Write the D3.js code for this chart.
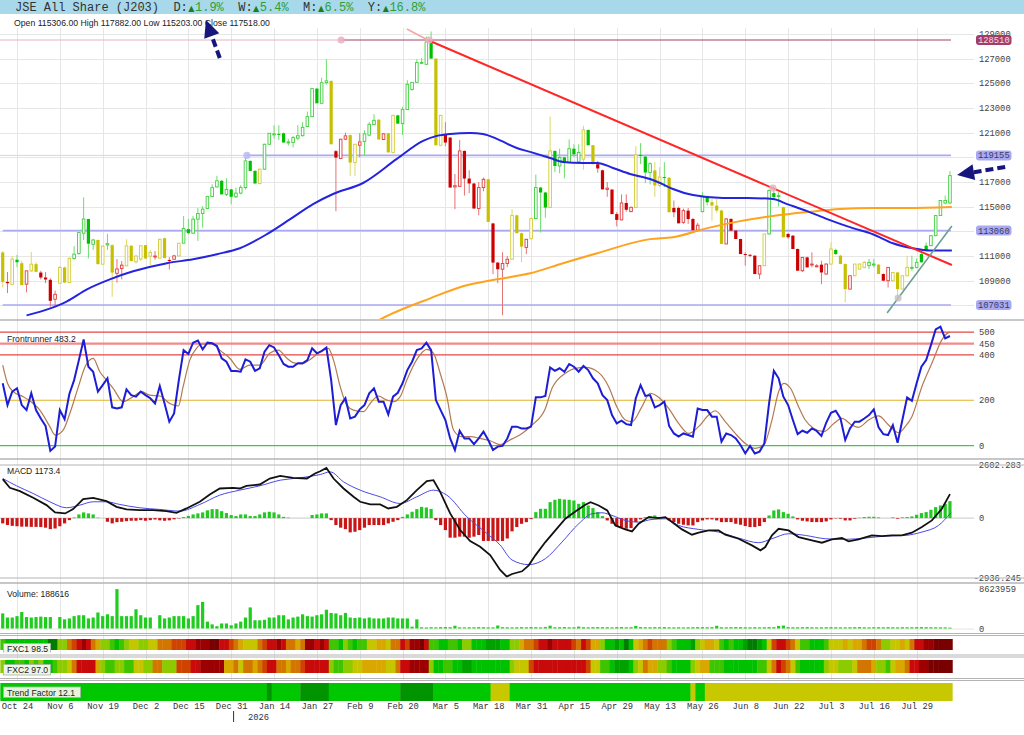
<!DOCTYPE html>
<html>
<head>
<meta charset="utf-8">
<title>JSE All Share (J203)</title>
<script src="https://cdn.jsdelivr.net/npm/d3@7"></script>
<style>
  body { margin: 0; background: #fff; }
  svg { display: block; }
</style>
</head>
<body>
<svg id="chart" width="1024" height="735"></svg>
<script>
// ---------- values ----------
const periodNames = ['D', 'W', 'M', 'Y'];
const periodChanges = [1.9, 5.4, 6.5, 16.8];

const tickLabels = ['Oct 24','Nov 6','Nov 19','Dec 2','Dec 15','Dec 31','Jan 14','Jan 27','Feb 9','Feb 20','Mar 5',
  'Mar 18','Mar 31','Apr 15','Apr 29','May 13','May 26','Jun 8','Jun 22','Jul 3','Jul 16','Jul 29'];
const tickBars = [3,12,21,30,39,48,57,66,75,84,93,102,111,120,129,138,147,156,165,174,183,192];
const yearMarks = [[48.5, '2026']];

const priceTicks = [107000,109000,111000,113000,115000,117000,119000,121000,123000,125000,127000,129000];

// open, high, low, close per trading day
const ohlc = [
[111290,111400,108450,108910],[108900,109700,108000,108800],[108700,111000,108700,110750],[110700,111100,110100,110500],[110420,110600,108640,108640],
[108720,109800,108050,109800],[109800,111340,109700,110340],[110340,110500,109700,109720],[109660,109800,109100,109260],[109260,109700,108800,109100],
[109070,109200,106900,107370],[107500,108200,106950,107900],[108800,110200,108800,110070],[110070,110150,108850,108850],[108850,110900,108800,110800],
[110800,111800,110700,111150],[111200,112950,111100,112900],[112850,115750,112300,114000],[114000,114000,110800,112000],[111950,112400,111500,112300],
[112300,112350,110340,110340],[110340,111850,110300,111800],[111900,112800,111500,112000],[111880,111950,107700,109660],[109600,110750,108850,109950],
[109990,110600,109100,110260],[110200,112360,110200,111830],[111830,111900,110600,110600],[110530,111100,110400,111000],[110750,111900,110600,111830],
[111880,111900,110800,110800],[110990,111500,110250,111280],[111000,111400,110700,111000],[110830,112400,110800,112360],[112440,112500,110830,110830],
[110680,110900,109900,110660],[110740,111100,110700,111010],[111010,112050,111000,112040],[112040,114250,112040,113230],[113180,114000,112750,112850],
[112850,114250,112800,113990],[113990,114900,112230,114450],[114450,115050,113300,114800],[114850,115850,114800,115820],[115820,116820,115800,116550],
[116600,117500,116550,117100],[117100,117150,116000,116000],[116000,117300,115850,116400],[116400,116450,115200,115800],[115800,116550,115700,116100],
[116100,116750,116000,116550],[116550,119000,116400,118710],[118710,118750,117900,117900],[117900,117950,116880,116880],[116880,118100,116800,118040],
[118040,120100,118000,120060],[120060,120950,120000,120950],[120900,121600,120500,120900],[120900,121600,120400,120880],[120950,121000,120200,120200],
[120200,120500,119950,120250],[120200,120750,119800,120600],[120550,121600,120400,120750],[120750,121850,120700,121430],[121500,122700,121450,122300],
[122300,124600,122250,124570],[124570,124600,123380,123380],[123380,125450,123350,125050],[125050,126950,124900,125200],[125190,125250,120060,120060],
[119500,119600,114630,118980],[118900,120500,118850,120470],[120470,121000,120400,120740],[120800,120850,117500,118580],[118580,120100,117500,120060],
[119980,120950,119000,120250],[120280,121200,119100,120900],[120800,121850,120700,121680],[121650,122500,121600,122000],[122050,122100,120450,120450],
[120450,120950,120400,120900],[120950,121000,119400,119400],[119400,122450,119350,122400],[122400,122450,121730,121730],[121730,123100,120800,122870],
[122870,125250,122850,124920],[124500,125100,124400,125080],[125080,126950,125050,126680],[126650,127050,126550,126700],[126540,128800,126500,128350],
[128400,129200,127000,127000],[127000,127050,119980,119980],[119980,122450,119900,122400],[120870,121850,119900,120200],[120600,120650,116550,116550],
[116600,117650,114800,116700],[116650,120400,116600,119520],[119520,119550,115900,117280],[117280,117950,116100,116880],[116880,116900,114850,114850],
[114850,117000,114300,116550],[116550,117350,116250,117220],[117220,117250,113770,113770],[113640,113700,109530,110470],[110470,110500,108800,109930],
[109930,111300,106200,110400],[110400,111000,110100,110740],[110740,114800,110700,114300],[114300,114350,112850,112850],[112850,112900,110500,111770],
[111700,112360,111150,112360],[112400,114100,112350,114040],[114040,117600,114000,116550],[116550,116600,112900,116150],[116150,116200,114100,114930],
[114930,122300,114900,119520],[119520,119550,117800,118300],[118300,119700,117700,119000],[119000,119050,117300,118580],[118580,120450,118500,119700],
[119700,120050,119050,119250],[118630,120050,118500,119400],[118850,121560,118000,121220],[121220,121250,119980,119980],[119980,120000,118440,118440],
[118440,118700,117750,118100],[117950,118000,116400,116400],[116400,117000,115800,116500],[116390,116400,114400,114400],[114400,114550,113400,113930],
[113930,116000,113900,115300],[115300,116000,114600,114750],[114600,115000,114550,114950],[114930,119900,114900,119200],[119200,120150,118450,119110],
[119060,119100,116900,117770],[117770,118600,116800,118480],[117940,118610,115800,116720],[116720,118200,116580,117400],[117400,118610,116580,117350],
[117340,117400,114550,114550],[114900,115500,114140,114550],[114900,115000,113650,113650],[113730,114850,113600,114680],[114680,114900,113600,114000],
[114000,114100,113000,113100],[113100,113700,112950,113500],[114600,116175,114550,115800],[115770,115900,115100,115360],[115360,115630,113870,115100],
[115090,115630,114500,114690],[114690,114750,111980,111980],[111980,114050,111950,114010],[114010,114050,113060,113060],[113060,113100,112380,112380],
[112380,112400,111160,111160],[111160,111300,110220,111100],[111100,111160,110900,111030],[111030,111050,109540,109540],[109540,110215,109130,110215],
[110215,112800,110200,112790],[112790,116400,112750,116310],[116100,116500,115700,115770],[115900,116175,115010,115900],[114960,115000,112520,112520],
[112790,112850,112400,112520],[112650,112700,111570,111570],[111570,111600,109810,109810],[109810,110890,109700,110890],[110890,110950,110080,110080],
[110350,111300,110080,110350],[110210,110350,110080,110210],[110300,110620,108720,109670],[109540,110400,109500,110350],[110350,112110,110300,111570],
[111490,111600,111100,111160],[111030,111100,110350,110350],[110350,110400,107240,108320],[108320,109400,108300,109400],[109400,110350,109350,110350],
[109940,110400,109900,110350],[110080,110600,110000,110490],[110220,110760,109940,110490],[110350,110760,110080,110350],[110300,110350,109540,109540],
[109540,109600,109000,109000],[109000,110080,108450,110080],[109000,109700,108950,109670],[109670,109700,107370,108320],[108320,109400,108300,109400],
[109400,111030,109350,110080],[110080,111030,109810,110080],[110080,110800,110000,110490],[111160,111250,110490,110490],[111840,112100,111430,111430],
[111840,112700,111800,112650],[112650,114300,112600,114280],[114280,115550,114250,115500],[115300,115900,115200,115500],[115306,117882,115203,117518]
];

// candle colour class per day: g green, r red, y yellow
const candleColors = [
  'yrygyryyrr','rryyyggggg','yygyrryyyy','yyryyrrygg','gggggggggg','ggggyggggg','gggggggggy','rrryyrgggy','ryyggggggg','gyyrrrrrrr',
  'rryrrrryyy','rygggygggg','ggygyrrrrr','rrrygggyyg','yrrrrrrggy','yyrrrrrrrr','ygggyrrrrr','rrrrygyyry','yyggyrryyy','yggggggggg'
].join('').split('');

// moving averages [day, value]
const blueMA = [[5,106190],[10,106760],[13.5,107330],[17.7,108300],[22.5,109110],[27.4,109760],[34.5,110420],[40,110740],[45,111150],
  [49.8,111630],[55.5,112770],[60.4,113990],[65.2,115210],[69.4,116030],[75.7,116920],[82.8,118870],[88.3,120330],[91.2,120740],
  [94,120900],[98.2,120980],[100.9,120900],[103.8,120500],[108,119760],[110.8,119440],[115,118950],[117.7,118630],[121.9,118550],
  [124.9,118550],[128.2,118140],[131.8,117650],[136,117240],[138.1,116920],[140.8,116430],[145,115940],[151.3,115700],[156.4,115700],
  [161.8,115620],[164.8,115210],[169,114640],[173.2,113990],[178.6,113260],[182.8,112770],[187,112040],[191.2,111630],[194.8,111450],[199.4,111450]];
const orangeMA = [[79,105800],[81,106190],[89.8,107570],[96.7,108550],[103.8,109110],[110.8,109600],[117.7,110420],[124.9,111230],
  [136,112370],[140.8,112530],[148,113260],[154.9,113830],[161.8,114240],[169,114560],[175.9,114810],[182.8,114890],[190,114890],[199.4,114970]];

// drawn lines and levels
const srLevels = [128510, 119155, 113060, 107031];
const srAnchorDays = [71.1, 51.3, 0, 0];
const downTrend = [[89.3,128510],[199.4,110270]];
const downTrendLead = [[84.9,129400],[89.3,128510]];
const upTrend = [[185.8,106380],[199.4,113440]];
const markers = [[71.1,128510,'pink'],[51.3,119155,'lav'],[89.6,128510,'pink'],[161.8,116515,'pink'],[188.1,107600,'grey']];
const arrows = [{from:[45.6,127050], to:[42.7,130130]}, {from:[210.6,118220], to:[200.5,117570]}];

const volume = [
3300000,2400000,2400000,2700000,3600000,2500000,2400000,2500000,2600000,2500000,2500000,0,
2500000,2000000,2200000,2700000,2900000,2900000,2200000,2400000,3500000,2700000,3100000,2700000,8600000,2700000,2700000,2700000,4200000,2900000,2400000,2400000,0,
2900000,2200000,2400000,2700000,2700000,2700000,2200000,2700000,5100000,5800000,1500000,900000,500000,1100000,1100000,700000,1100000,1500000,
2400000,4600000,1800000,1800000,1900000,2400000,2400000,2900000,2900000,2000000,2400000,2600000,3100000,2700000,2600000,2900000,3100000,4100000,3400000,3300000,
2900000,3400000,2400000,2300000,2400000,2200000,2400000,2200000,2200000,2200000,2400000,2400000,2200000,2200000,2200000,400000,2000000,
260000,230000,280000,250000,300000,320000,280000,600000,250000,240000,
270000,260000,300000,280000,250000,240000,650000,280000,260000,250000,
270000,290000,260000,300000,280000,250000,310000,620000,260000,280000,
300000,270000,260000,420000,280000,260000,290000,300000,280000,270000,
250000,300000,310000,260000,280000,570000,300000,260000,270000,290000,
280000,300000,260000,250000,270000,240000,260000,280000,300000,290000,
260000,280000,590000,270000,260000,280000,300000,290000,270000,260000,
280000,250000,270000,300000,280000,560000,640000,290000,270000,260000,
280000,300000,270000,250000,260000,280000,290000,270000,260000,250000,
270000,280000,300000,260000,250000,270000,280000,260000,290000,270000,
250000,280000,260000,270000,290000,300000,280000,270000,260000,250000,
240000,188616];

const frontrunner = [
275,179,238,253,179,157,231,157,120,87, -23,-4,157,117,228,289,377,468,348,326,
238,267,297,169,164,169,248,223,216,238, 223,209,186,263,186,106,142,289,421,404,
454,463,424,454,451,439,385,370,329,329, 326,380,370,330,341,414,443,433,399,360,
348,348,363,363,377,429,407,417,432,289, 91,179,209,120,128,160,179,231,253,194,
194,138,216,233,275,333,370,421,429,454, 421,201,157,113,32,-19,66,32,32,7,
32,62,25,-19,-4,-1,32,84,84,76, 76,84,213,213,219,345,330,341,326,360,
348,326,351,333,297,275,223,201,135,98, 110,95,91,209,267,219,223,169,179,194,
87,54,40,54,47,40,164,157,157,128, 128,18,54,47,32,3,-34,-1,-34,-26,
10,186,330,297,216,179,113,51,66,57, 76,65,43,101,145,154,120,25,76,106,
106,120,135,160,81,51,47,91,13,113, 213,198,275,348,377,443,512,524,473,483.2];
const frontSignal = [[0,355],[1,275],[2.2,238],[4.3,216],[6.4,186],[7.8,157],[9.9,84],[11,47],[12.7,69],[14.1,142],[15.9,260],
  [17.3,348],[19,385],[20.4,326],[21.8,289],[23.2,253],[25.3,194],[27.4,216],[29.2,238],[30.9,223],[33,219],[35.1,186],[36.9,175],
  [37.9,260],[39.3,377],[40.7,429],[42.1,448],[44.2,448],[45.6,421],[47.7,385],[49.8,336],[51.9,355],[54,355],[56.1,407],[57.9,421],
  [59.7,385],[61,366],[62.8,360],[64.6,380],[66.7,414],[68.4,429],[69.5,377],[70.9,260],[72.3,179],[73.7,157],[75.8,150],[77.2,186],
  [78.9,219],[80.7,201],[82.1,194],[83.5,216],[84.9,289],[87,380],[89.1,424],[90.5,407],[91.9,319],[93.3,216],[94.7,69],[96.4,40],
  [98.2,40],[100.3,32],[102.4,22],[104.5,5],[107,30],[109.1,54],[111.2,91],[114,164],[115.4,253],[118.2,319],[120.3,341],[122.4,345],
  [125.2,322],[127.3,260],[129,172],[130.8,113],[132.2,106],[134.3,172],[136,231],[137.8,213],[139.9,164],[142,98],[144.1,54],
  [146.2,84],[148.3,135],[149.7,154],[151.8,106],[153.9,54],[156,10],[158.1,-12],[159.9,3],[161.6,113],[163,238],[164.1,275],
  [165.5,253],[167.2,172],[168.6,113],[170.4,76],[172.5,62],[174.6,98],[176.3,120],[178.4,91],[179.8,81],[181.9,113],[184,131],
  [186.1,91],[188.2,57],[189.6,84],[191,128],[193.1,260],[195.2,363],[197.3,466],[198.7,498],[199,500]];
const frontLevels = [500, 450, 400, 200, 0];

const macdLine = [[0,1907],[1.5,1483],[3.6,1320],[6.4,994],[9.2,636],[11,277],[13.1,228],[14.8,440],[16.9,929],[19,994],[21.8,831],
  [23.9,554],[26,424],[28.8,391],[31.6,391],[34.4,342],[36.5,261],[38.6,473],[41.4,799],[43.5,1157],[45.6,1451],[48.4,1483],[49.8,1451],
  [51.2,1581],[54,1646],[56.1,1940],[58.3,2070],[61,1972],[63.9,1940],[65.6,2184],[66.7,2298],[68,2461],[69.5,1940],[71.6,1451],
  [73.7,1043],[75.1,799],[77.2,668],[79.3,668],[81,473],[82.8,554],[84.9,880],[87,1369],[89.1,1809],[90.5,1858],[91.9,1288],[94,228],
  [96.1,-587],[98.2,-1125],[100.3,-1402],[102.4,-1809],[104.5,-2543],[105.9,-2869],[107,-2740],[109.1,-2608],[110.5,-2315],
  [111.9,-1826],[114,-1174],[116.1,-603],[118.2,-33],[120.3,326],[122.4,652],[123.5,782],[125.2,619],[127,375],[128.7,-359],
  [130.8,-554],[132.2,-652],[133.6,-277],[135.7,49],[137.8,0],[139.2,49],[140.6,-196],[142.7,-554],[144.8,-815],[146.2,-717],
  [148.3,-603],[150.4,-603],[151.8,-815],[154.6,-1011],[157.4,-1337],[159.2,-1581],[160.2,-1418],[161.6,-848],[163,-522],
  [165.1,-603],[167.2,-929],[170,-1092],[172.1,-1206],[174.2,-1043],[176.3,-978],[177.7,-1141],[179.8,-1043],[182.6,-848],
  [184.7,-880],[186.8,-848],[188.9,-848],[191,-717],[193.1,-440],[195.2,-114],[197.3,456],[199,1173.4]];
const macdSignal = [[0,1940],[2.9,1581],[6.4,1206],[9.9,799],[13.4,505],[16.2,636],[19,799],[21.8,799],[24.6,668],[28.8,505],
  [33,424],[37.2,342],[41.4,668],[45.6,1125],[49.8,1369],[54,1581],[58.3,1858],[62.4,1972],[66.7,2135],[68.8,2266],[71.6,1777],
  [75.1,1369],[79.3,1043],[83.5,717],[87,1043],[90.5,1369],[93.3,1125],[97.5,65],[101.7,-750],[104.5,-1320],[107,-2054],
  [110.5,-2282],[114,-1989],[117.5,-1174],[121,-277],[123.8,212],[125.9,261],[128,130],[130.8,-114],[133.6,-196],[136.4,-65],
  [139.2,-33],[142,-359],[146.2,-554],[150.4,-685],[154.6,-978],[158.8,-1206],[161.6,-1011],[165.1,-766],[168.6,-848],
  [172.8,-1011],[177,-1043],[181.2,-978],[185.4,-880],[189.6,-848],[193.1,-685],[196.6,-359],[199.2,261]];
const macdHist = [
-260,-340,-380,-400,-420,-420,-430,-430,-440,-470, -540,-510,-400,-260,-100,30,180,280,230,180,
20,0,-180,-260,-200,-180,-150,-130,-130,-100, -130,-100,-70,-110,-130,-110,-60,-20,50,110,
180,230,280,380,440,440,340,250,150,100, 180,180,100,100,180,280,310,280,180,60,
20,0,0,0,0,150,180,230,230,-100, -340,-470,-540,-700,-670,-590,-470,-340,-340,-340,
-340,-260,-180,-100,60,180,310,440,550,520, 450,-100,-340,-590,-960,-960,-910,-910,-960,-910,
-830,-1120,-1120,-1120,-1120,-1120,-1000,-650,-440,-280, -200,-50,293,456,456,782,897,945,913,897,
864,701,782,619,489,293,98,-114,-277,-391, -440,-522,-489,-196,-65,49,98,130,49,0,
-114,-196,-277,-326,-359,-359,-196,-114,-65,-65, -114,-196,-196,-196,-277,-326,-391,-440,-440,-391,
-196,130,375,424,293,212,82,-65,-130,-163, -196,-196,-196,-163,-65,-16,-33,-114,-114,-33,
16,49,65,65,33,0,0,33,-33,33, 49,82,163,245,293,408,538,619,701,831];
const macdRange = [-2936.245, 2602.283];

// heat levels: 0 deep green ... 11 maroon
const fxc1 = [
3,2,2,2,2,2,2,2,2,2, 0,0,4,4,7,8,9,10,9,7, 6,4,4,3,2,3,4,5,5,4, 4,5,5,7,7,7,8,8,8,9,
9,10,10,10,11,11,9,9,8,7, 6,5,5,5,7,8,9,9,10,9, 7,7,6,7,10,10,9,10,9,3, 3,2,4,3,2,3,3,5,5,6,
6,5,7,7,9,8,10,10,11,9, 3,3,2,2,3,3,2,4,4,2, 2,2,1,1,1,2,2,4,4,6, 7,7,8,9,9,10,9,9,9,9,
8,7,9,8,6,6,4,2,2,1, 2,0,2,5,6,7,8,7,7,7, 4,3,2,2,2,1,4,5,6,6, 5,3,2,3,2,2,1,0,0,1,
2,5,8,9,9,8,7,5,3,3, 2,2,2,3,5,5,5,6,5,6, 6,7,8,8,7,4,4,5,5,6, 5,7,9,9,10,10,11,11,11,11];
const fxc2 = [
4,2,2,3,3,2,4,3,4,2, 2,3,4,4,5,7,9,9,9,9, 6,4,3,3,4,4,3,3,5,5, 4,4,7,7,4,4,4,8,8,8,
9,9,10,10,10,10,10,6,6,7, 5,7,7,6,7,8,9,9,7,7, 6,7,7,8,9,9,9,9,9,4, 3,3,4,4,5,5,6,6,6,6,
6,5,5,7,9,9,10,10,10,10, 4,2,2,3,3,2,2,1,1,2, 2,2,2,2,2,2,2,4,5,5, 5,8,9,9,9,9,9,9,9,9,
9,9,9,8,5,5,3,3,2,1, 1,1,2,4,5,7,6,6,4,4, 3,2,2,2,2,4,5,6,6,3, 3,3,2,2,2,2,2,2,2,3,
3,5,7,9,8,7,5,3,2,2, 2,2,2,4,5,5,4,4,4,5, 7,7,7,6,4,4,3,5,6,6, 7,9,9,10,10,11,11,11,11,11];
const fxcReadings = [98.5, 97.0];
// trend factor runs [firstDay, lastDay, state] : 0 strong, 1 up, 2 neutral
const trendRuns = [[0,55,1],[56,56,0],[57,62,1],[63,68,0],[69,83,1],[84,90,0],[91,102,1],[103,106,2],[107,144,1],[145,145,2],[146,147,1],[148,199,2]];
const trendFactor = 12.1;

// ---------- drawing ----------
const svg = d3.select('#chart');
const W = 1024, plotRight = 974;
const mono = 'Liberation Mono, DejaVu Sans Mono, monospace';
const sans = 'Liberation Sans, Arial, sans-serif';

const x = d3.scaleLinear().domain([0, ohlc.length - 1]).range([2.72, 949.96]);
const step = x(1) - x(0);
const yP = d3.scaleLinear().domain([107031, 128510]).range([305, 40]);
const yF = d3.scaleLinear().domain([0, 500]).range([445.7, 332.2]);
const yM = d3.scaleLinear().domain(macdRange).range([578, 465]);
const yV = d3.scaleLinear().domain([0, 8623959]).range([628.5, 589]);

const defs = svg.append('defs');
function clip(id, y0, y1) {
  defs.append('clipPath').attr('id', id).append('rect')
    .attr('x', 0).attr('y', y0).attr('width', plotRight).attr('height', y1 - y0);
  return `url(#${id})`;
}

// header
svg.append('rect').attr('width', W).attr('height', 14).attr('fill', '#a8d9ea');
const cw = 7.2;
svg.append('text').attr('x', 15).attr('y', 11).attr('font-family', mono).attr('font-size', 12)
  .attr('fill', '#333').text('JSE All Share (J203)');
periodNames.forEach((p, k) => {
  const col = 22 + k * 9;
  svg.append('text').attr('x', 15 + col * cw).attr('y', 11).attr('font-family', mono).attr('font-size', 12)
    .attr('fill', '#333').text(p + ':');
  svg.append('text').attr('x', 15 + (col + 2) * cw + 0.5).attr('y', 10.5).attr('font-family', 'DejaVu Sans')
    .attr('font-size', 8).attr('fill', '#1e7d1e').text('\u25B2');
  svg.append('text').attr('x', 15 + (col + 3) * cw).attr('y', 11).attr('font-family', mono).attr('font-size', 12)
    .attr('fill', '#2f9e36').text(periodChanges[k].toFixed(1) + '%');
});
const last = ohlc[ohlc.length - 1];
svg.append('text').attr('x', 14).attr('y', 26).attr('font-family', sans).attr('font-size', 8.7).attr('fill', '#222')
  .text(`Open ${last[0].toFixed(2)} High ${last[1].toFixed(2)} Low ${last[2].toFixed(2)} Close ${last[3].toFixed(2)}`);

// grid
const grid = svg.append('g').attr('stroke', '#e6e6e6').attr('stroke-width', 1);
grid.selectAll('line.v').data(tickBars).join('line')
  .attr('x1', d => Math.round(x(d)) + 0.5).attr('x2', d => Math.round(x(d)) + 0.5).attr('y1', 28).attr('y2', 681);
grid.selectAll('line.h').data(priceTicks).join('line')
  .attr('x1', 0).attr('x2', plotRight).attr('y1', d => Math.round(yP(d)) + 0.5).attr('y2', d => Math.round(yP(d)) + 0.5);

// ---- price panel ----
const pricePanel = svg.append('g').attr('clip-path', clip('cp-price', 28, 319));

// support / resistance lines
srLevels.forEach((v, k) => {
  const yy = yP(v);
  const a = srAnchorDays[k];
  const main = k === 0 ? '#a3406a' : '#aaaaf2';
  const faint = k === 0 ? '#e6b4bf' : '#d4d4f8';
  if (a > 0) pricePanel.append('line').attr('x1', 0).attr('x2', x(a)).attr('y1', yy).attr('y2', yy)
    .attr('stroke', faint).attr('stroke-width', 1);
  pricePanel.append('line').attr('x1', x(a)).attr('x2', x(ohlc.length - 1) + 1).attr('y1', yy).attr('y2', yy)
    .attr('stroke', main).attr('stroke-width', k === 0 ? 1 : 1.6);
});

// candles
const palette = {
  g: {fill: '#00bf00', line: '#3fce3f', wick: '#6ade6a'},
  r: {fill: '#cc0000', line: '#de3c3c', wick: '#e77272'},
  y: {fill: '#c6c000', line: '#d2cc35', wick: '#dcd86a'}
};
const candle = pricePanel.selectAll('g.candle').data(ohlc).join('g').attr('class', 'candle');
candle.append('line')
  .attr('x1', (d, i) => x(i)).attr('x2', (d, i) => x(i))
  .attr('y1', d => yP(d[1])).attr('y2', d => yP(d[2]))
  .attr('stroke', (d, i) => palette[candleColors[i]].wick).attr('stroke-width', 1);
candle.append('rect')
  .attr('x', (d, i) => d[3] >= d[0] ? x(i) - 1.3 : x(i) - 1.6)
  .attr('width', d => d[3] >= d[0] ? 2.6 : 3.2)
  .attr('y', d => yP(Math.max(d[0], d[3])))
  .attr('height', d => Math.max(1, Math.abs(yP(d[0]) - yP(d[3]))))
  .attr('fill', (d, i) => d[3] >= d[0] ? '#fff' : palette[candleColors[i]].fill)
  .attr('stroke', (d, i) => d[3] >= d[0] ? palette[candleColors[i]].line : 'none')
  .attr('stroke-width', 0.9);

// averages and trend lines
const priceLine = d3.line().x(d => x(d[0])).y(d => yP(d[1]));
const smooth = d3.line().x(d => x(d[0])).y(d => yP(d[1])).curve(d3.curveMonotoneX);
pricePanel.append('path').attr('d', smooth(orangeMA)).attr('fill', 'none').attr('stroke', '#ffa31f').attr('stroke-width', 2);
pricePanel.append('path').attr('d', smooth(blueMA)).attr('fill', 'none').attr('stroke', '#2424e0').attr('stroke-width', 2);
pricePanel.append('path').attr('d', priceLine(downTrendLead)).attr('fill', 'none').attr('stroke', '#f4a6a6').attr('stroke-width', 1.5);
pricePanel.append('path').attr('d', priceLine(downTrend)).attr('fill', 'none').attr('stroke', '#ff2626').attr('stroke-width', 2);
pricePanel.append('path').attr('d', priceLine(upTrend)).attr('fill', 'none').attr('stroke', '#6c9e93').attr('stroke-width', 1.6);

const markerFill = {pink: '#eab0c0', lav: '#b8b8f4', grey: '#c4c4c4'};
pricePanel.selectAll('circle.mk').data(markers).join('circle')
  .attr('cx', d => x(d[0])).attr('cy', d => yP(d[1])).attr('r', 3.6)
  .attr('fill', d => markerFill[d[2]]).attr('opacity', 0.85);

// price axis labels
const pAxis = svg.append('g').attr('font-family', mono).attr('font-size', 8.8).attr('fill', '#444');
pAxis.selectAll('text').data(priceTicks).join('text')
  .attr('x', 979).attr('y', d => yP(d)).attr('dy', '0.35em').text(d => d);
srLevels.forEach((v, k) => {
  const yy = yP(v);
  svg.append('rect').attr('x', 976).attr('y', yy - 5).attr('width', 35.5).attr('height', 10).attr('rx', 3)
    .attr('fill', k === 0 ? '#a33d66' : '#a9a9f2');
  svg.append('text').attr('x', 978).attr('y', yy).attr('dy', '0.35em').attr('font-family', mono).attr('font-size', 8.8)
    .attr('fill', k === 0 ? '#f6dde8' : '#3a3a60').text(v);
});

// ---- frontrunner panel ----
const frPanel = svg.append('g').attr('clip-path', clip('cp-fr', 321, 458));
const levelStyle = {500: ['#e84444', 1.2], 450: ['#f28a8a', 2.2], 400: ['#e84444', 1.2], 200: ['#e2b22a', 1.1], 0: ['#4cc24c', 1.2]};
frontLevels.forEach(v => {
  frPanel.append('line').attr('x1', 0).attr('x2', plotRight).attr('y1', yF(v)).attr('y2', yF(v))
    .attr('stroke', levelStyle[v][0]).attr('stroke-width', levelStyle[v][1]);
  svg.append('text').attr('x', 979).attr('y', yF(v)).attr('dy', '0.35em').attr('font-family', mono)
    .attr('font-size', 8.8).attr('fill', '#444').text(v);
});
const frLine = d3.line().x((d, i) => x(i)).y(d => yF(d));
frPanel.append('path').attr('d', d3.line().x(d => x(d[0])).y(d => yF(d[1])).curve(d3.curveMonotoneX)(frontSignal))
  .attr('fill', 'none').attr('stroke', '#b27a52').attr('stroke-width', 1.2);
frPanel.append('path').attr('d', frLine(frontrunner)).attr('fill', 'none').attr('stroke', '#1d1dd6').attr('stroke-width', 2);
svg.append('text').attr('x', 7).attr('y', 342).attr('font-family', sans).attr('font-size', 8.6).attr('fill', '#222')
  .text(`Frontrunner ${frontrunner[frontrunner.length - 1]}`);

// ---- MACD panel ----
const mPanel = svg.append('g').attr('clip-path', clip('cp-macd', 464, 579));
mPanel.append('line').attr('x1', 0).attr('x2', plotRight).attr('y1', yM(0)).attr('y2', yM(0))
  .attr('stroke', '#c8c8c8').attr('stroke-width', 1);
mPanel.selectAll('rect.h').data(macdHist).join('rect')
  .attr('x', (d, i) => x(i) - 1.6).attr('width', 3.2)
  .attr('y', d => Math.min(yM(0), yM(d))).attr('height', d => Math.abs(yM(d) - yM(0)))
  .attr('fill', d => d >= 0 ? '#22c922' : '#c81616');
mPanel.append('path').attr('d', d3.line().x(d => x(d[0])).y(d => yM(d[1])).curve(d3.curveMonotoneX)(macdSignal))
  .attr('fill', 'none').attr('stroke', '#4a4ae6').attr('stroke-width', 1);
mPanel.append('path').attr('d', d3.line().x(d => x(d[0])).y(d => yM(d[1]))(macdLine))
  .attr('fill', 'none').attr('stroke', '#111').attr('stroke-width', 1.8);
svg.append('rect').attr('x', 3).attr('y', 466).attr('width', 60).attr('height', 10).attr('fill', '#fff').attr('opacity', 0.85);
svg.append('text').attr('x', 7).attr('y', 474).attr('font-family', sans).attr('font-size', 8.6).attr('fill', '#222')
  .text(`MACD ${macdLine[macdLine.length - 1][1]}`);
svg.append('text').attr('x', 1021).attr('y', yM(macdRange[1])).attr('dy', '0.35em').attr('text-anchor', 'end')
  .attr('font-family', mono).attr('font-size', 8.8).attr('fill', '#444').text(macdRange[1].toFixed(3));
svg.append('text').attr('x', 1021).attr('y', yM(macdRange[0])).attr('dy', '0.35em').attr('text-anchor', 'end')
  .attr('font-family', mono).attr('font-size', 8.8).attr('fill', '#444').text(macdRange[0].toFixed(3));
svg.append('text').attr('x', 979).attr('y', yM(0)).attr('dy', '0.35em')
  .attr('font-family', mono).attr('font-size', 8.8).attr('fill', '#444').text(0);

// ---- volume panel ----
svg.append('line').attr('x1', 0).attr('x2', plotRight).attr('y1', yV(0) + 0.5).attr('y2', yV(0) + 0.5).attr('stroke', '#e4e4e4');
svg.append('g').selectAll('rect').data(volume).join('rect')
  .attr('x', (d, i) => x(i) - 1.6).attr('width', 3.2)
  .attr('y', d => yV(d)).attr('height', d => yV(0) - yV(d))
  .attr('fill', '#1fcc1f');
svg.append('text').attr('x', 7).attr('y', 597).attr('font-family', sans).attr('font-size', 8.6).attr('fill', '#222')
  .text(`Volume: ${volume[volume.length - 1]}`);
[8623959, 0].forEach(v => svg.append('text').attr('x', 979).attr('y', yV(v)).attr('dy', '0.35em')
  .attr('font-family', mono).attr('font-size', 8.8).attr('fill', '#444').text(v));

// ---- heat strips ----
const heat = ['#007c00','#00a200','#00c100','#3fc500','#8bcb00','#c5c600','#d8a800','#d27600','#cf4300','#c90a0a','#9c0000','#780000'];
function strip(levels, y0, y1) {
  svg.append('g').selectAll('rect').data(levels).join('rect')
    .attr('x', (d, i) => x(i) - step / 2).attr('width', step + 0.4)
    .attr('y', y0).attr('height', y1 - y0).attr('fill', d => heat[d]);
}
strip(fxc1, 639, 650);
strip(fxc2, 660, 673);
const trendColor = ['#009400', '#00c800', '#c8c800'];
svg.append('g').selectAll('rect').data(trendRuns).join('rect')
  .attr('x', d => x(d[0]) - step / 2).attr('width', d => x(d[1]) - x(d[0]) + step + 0.3)
  .attr('y', 683).attr('height', 18).attr('fill', d => trendColor[d[2]]);

defs.append('clipPath').attr('id', 'cp-fx1').append('rect').attr('x', 0).attr('y', 636).attr('width', 200).attr('height', 16.5);
const fxLab = [[`FXC1 ${fxcReadings[0].toFixed(1)}`, 643.5, 'url(#cp-fx1)'], [`FXC2 ${fxcReadings[1].toFixed(1)}`, 664.5, null],
  [`Trend Factor ${trendFactor.toFixed(1)}`, 687, null]];
fxLab.forEach(([t, yy, cp], k) => {
  const g = svg.append('g');
  if (cp) g.attr('clip-path', cp);
  const wdt = k === 2 ? 77 : 47;
  g.append('rect').attr('x', 3.5).attr('y', yy).attr('width', wdt).attr('height', 10.5)
    .attr('fill', k === 2 ? '#e4f3dc' : '#eef5e8').attr('stroke', '#a9b3a4').attr('stroke-width', 0.8);
  g.append('text').attr('x', 7).attr('y', yy + 8.6).attr('font-family', sans).attr('font-size', 8.6).attr('fill', '#222').text(t);
});

// ---- separators ----
const sep = svg.append('g').attr('stroke', '#b4b4b4');
[[320, 1.6], [459, 1.6], [465, 1], [578, 1], [583, 1.6], [633.5, 1], [635.5, 1], [655, 1], [657, 1], [678.5, 1], [680.5, 1]]
  .forEach(([yy, w]) => sep.append('line').attr('x1', 0).attr('x2', W).attr('y1', yy).attr('y2', yy).attr('stroke-width', w));

// ---- time axis ----
const axis = d3.axisBottom(x).tickValues(tickBars).tickFormat((d, i) => tickLabels[i]).tickSize(0).tickPadding(1);
const ax = svg.append('g').attr('transform', 'translate(0,702)').call(axis);
ax.select('.domain').remove();
ax.selectAll('text').attr('font-family', mono).attr('font-size', 8.8).attr('fill', '#333');
yearMarks.forEach(([b, t]) => {
  svg.append('line').attr('x1', x(b)).attr('x2', x(b)).attr('y1', 711).attr('y2', 722).attr('stroke', '#333');
  svg.append('text').attr('x', x(b) + 25).attr('y', 720).attr('text-anchor', 'middle').attr('font-family', mono)
    .attr('font-size', 8.8).attr('fill', '#333').text(t);
});

// ---- annotation arrows ----
const ink = '#16167c';
arrows.forEach(a => {
  const x0 = x(a.from[0]), y0 = yP(a.from[1]), x1 = x(a.to[0]), y1 = yP(a.to[1]);
  const ang = Math.atan2(y1 - y0, x1 - x0), L = 17, hw = 8;
  const bx = x1 - L * Math.cos(ang), by = y1 - L * Math.sin(ang);
  svg.append('line').attr('x1', x0).attr('y1', y0).attr('x2', bx).attr('y2', by)
    .attr('stroke', ink).attr('stroke-width', 4).attr('stroke-dasharray', '8,4');
  svg.append('path')
    .attr('d', `M${x1},${y1}L${bx + hw * Math.sin(ang)},${by - hw * Math.cos(ang)}L${bx - hw * Math.sin(ang)},${by + hw * Math.cos(ang)}Z`)
    .attr('fill', ink);
});
</script>
</body>
</html>
